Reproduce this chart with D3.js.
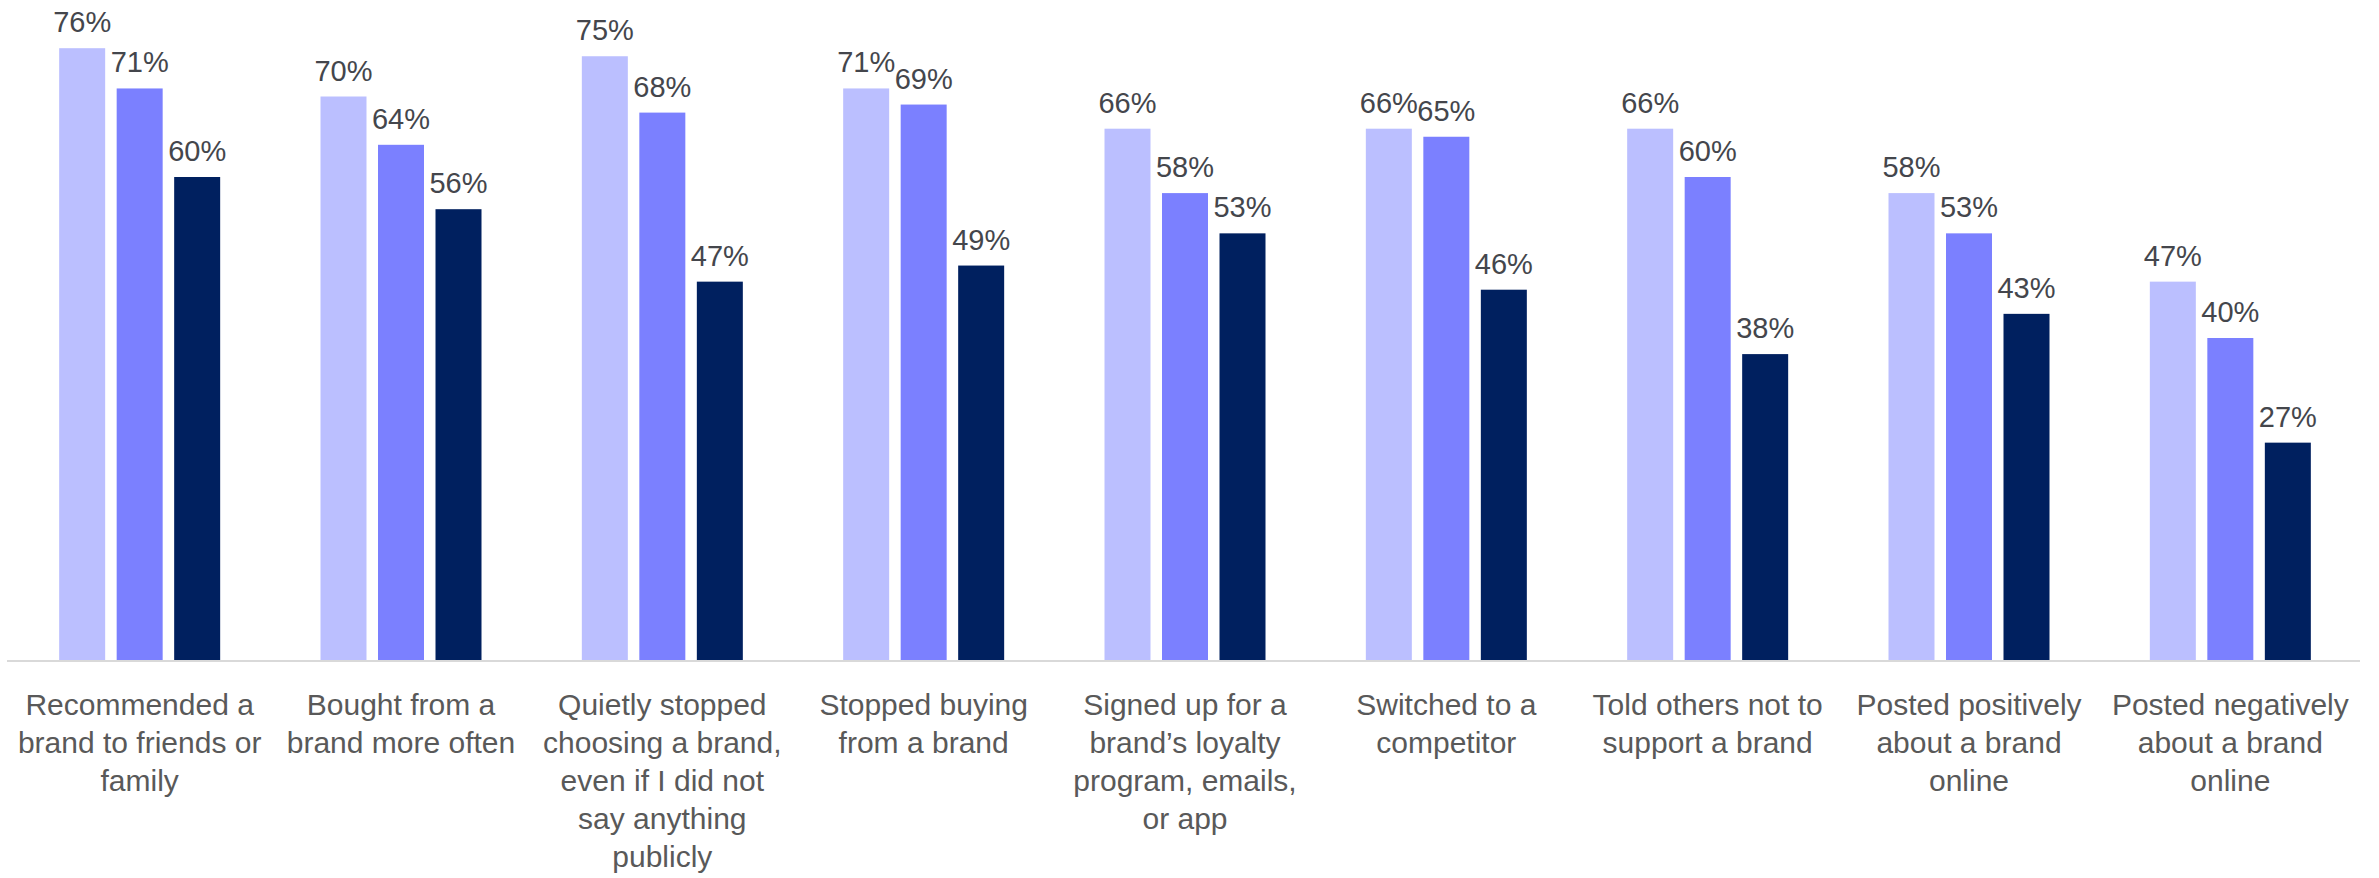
<!DOCTYPE html>
<html>
<head>
<meta charset="utf-8">
<script src="https://cdn.jsdelivr.net/npm/d3@7"></script>
<style>
  html, body { margin: 0; padding: 0; background: #ffffff; }
  svg { display: block; }
</style>
</head>
<body>
<svg id="chart" width="2379" height="878"></svg>
<script>
// Category labels (line breaks marked with \n)
const categories = [
  "Recommended a\nbrand to friends or\nfamily",
  "Bought from a\nbrand more often",
  "Quietly stopped\nchoosing a brand,\neven if I did not\nsay anything\npublicly",
  "Stopped buying\nfrom a brand",
  "Signed up for a\nbrand\u2019s loyalty\nprogram, emails,\nor app",
  "Switched to a\ncompetitor",
  "Told others not to\nsupport a brand",
  "Posted positively\nabout a brand\nonline",
  "Posted negatively\nabout a brand\nonline"
];

const seriesNames = ["group1", "group2", "group3"];
const seriesColors = ["#bbbfff", "#7b80ff", "#00205f"];

// Percent values per series, in category order
const group1Values = [76, 70, 75, 71, 66, 66, 66, 58, 47];
const group2Values = [71, 64, 68, 69, 58, 65, 60, 53, 40];
const group3Values = [60, 56, 47, 49, 53, 46, 38, 43, 27];

const seriesValues = [group1Values, group2Values, group3Values];

const svg = d3.select("#chart");

const baseY = 660;
const y = d3.scaleLinear().domain([0, 100]).range([baseY, baseY - 805]);

const x0 = d3.scaleBand()
  .domain(categories.map((c, i) => i))
  .range([9, 2361])
  .padding(0);

const half = x0.bandwidth() / 2;
const x1 = d3.scaleBand()
  .domain(seriesNames)
  .range([half - 80.5, half + 80.5])
  .paddingInner(0.2)
  .paddingOuter(0);

// Flatten into one record per bar
const bars = [];
categories.forEach((c, i) => {
  seriesNames.forEach((s, j) => {
    bars.push({ cat: i, series: s, color: seriesColors[j], value: seriesValues[j][i] });
  });
});

// Baseline axis
svg.append("line")
  .attr("x1", 7).attr("x2", 2360)
  .attr("y1", baseY + 1).attr("y2", baseY + 1)
  .attr("stroke", "#d9d9d9")
  .attr("stroke-width", 2);

const g = svg.append("g");

g.selectAll("rect.bar")
  .data(bars)
  .join("rect")
  .attr("class", "bar")
  .attr("x", d => x0(d.cat) + x1(d.series))
  .attr("y", d => y(d.value))
  .attr("width", x1.bandwidth())
  .attr("height", d => y(0) - y(d.value))
  .attr("fill", d => d.color);

// Value labels above bars
g.selectAll("text.val")
  .data(bars)
  .join("text")
  .attr("class", "val")
  .attr("x", d => x0(d.cat) + x1(d.series) + x1.bandwidth() / 2)
  .attr("y", d => y(d.value) - 16)
  .attr("text-anchor", "middle")
  .attr("font-family", "'Liberation Sans', Arial, sans-serif")
  .attr("font-size", 29)
  .attr("fill", "#44464c")
  .text(d => d.value + "%");

// Category labels below the axis
const catLabels = svg.append("g")
  .selectAll("text.cat")
  .data(categories)
  .join("text")
  .attr("class", "cat")
  .attr("text-anchor", "middle")
  .attr("font-family", "'Liberation Sans', Arial, sans-serif")
  .attr("font-size", 30)
  .attr("fill", "#595959");

catLabels.each(function(d, i) {
  const cx = x0(i) + half;
  d3.select(this).selectAll("tspan")
    .data(d.split("\n"))
    .join("tspan")
    .attr("x", cx)
    .attr("y", (line, k) => 715 + k * 38)
    .text(line => line);
});
</script>
</body>
</html>
